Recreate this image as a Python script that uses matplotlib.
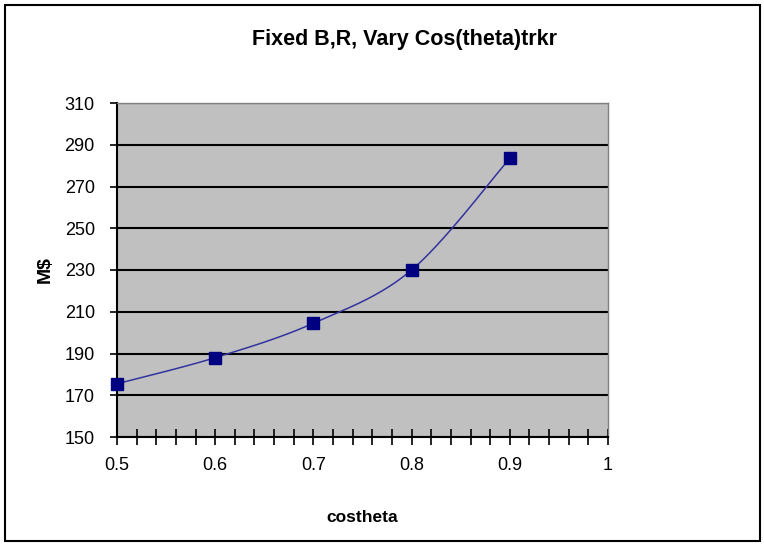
import numpy as np
import matplotlib
matplotlib.use("Agg")
import matplotlib.pyplot as plt
from matplotlib.patches import Rectangle

plt.rcParams['font.family'] = ['Liberation Sans', 'DejaVu Sans']

# cost vs. tracker cos(theta) coverage
costheta = [0.5, 0.6, 0.7, 0.8, 0.9]
cost = [175.5, 188.0, 204.5, 230.0, 283.5]
x_ticks = [0.5, 0.6, 0.7, 0.8, 0.9, 1.0]
x_tick_labels = ['0.5', '0.6', '0.7', '0.8', '0.9', '1']
y_ticks = [150, 170, 190, 210, 230, 250, 270, 290, 310]


def smooth_curve(x, y, n=40):
    # Catmull-Rom style smoothing, like a spreadsheet "smoothed line"
    x = np.asarray(x, float)
    y = np.asarray(y, float)
    px = np.concatenate([[x[0]], x, [x[-1]]])
    py = np.concatenate([[y[0]], y, [y[-1]]])
    xs, ys = [], []
    t = np.linspace(0, 1, n)
    for i in range(1, len(px) - 2):
        p0 = np.array([px[i], py[i]])
        p3 = np.array([px[i + 1], py[i + 1]])
        c1 = p0 + (np.array([px[i + 1], py[i + 1]]) - np.array([px[i - 1], py[i - 1]])) / 6
        c2 = p3 - (np.array([px[i + 2], py[i + 2]]) - np.array([px[i], py[i]])) / 6
        b = ((1 - t) ** 3)[:, None] * p0 + (3 * (1 - t) ** 2 * t)[:, None] * c1 \
            + (3 * (1 - t) * t ** 2)[:, None] * c2 + (t ** 3)[:, None] * p3
        xs.extend(b[:, 0])
        ys.extend(b[:, 1])
    return xs, ys


fig = plt.figure(figsize=(7.64, 5.46), dpi=100)
ax = fig.add_axes([117 / 764, 1 - 437 / 546, 491 / 764, 334 / 546])
ax.set_facecolor('#C0C0C0')

ax.set_xlim(0.5, 1.0)
ax.set_ylim(150, 310)
ax.set_yticks(y_ticks)
ax.set_xticks(x_ticks)
ax.set_xticklabels(x_tick_labels)
ax.set_xticks(np.round(np.arange(0.5, 1.001, 0.02), 2), minor=True)
ax.grid(axis='y', color='black', linewidth=1.5)
ax.set_axisbelow(True)

sx, sy = smooth_curve(costheta, cost)
ax.plot(sx, sy, color='#3333A0', linewidth=1.1, zorder=3)
ax.plot(costheta, cost, linestyle='none', marker='s', markersize=9,
        color='#000080', zorder=4, clip_on=False)

for side in ('top', 'right'):
    ax.spines[side].set_color('#808080')
    ax.spines[side].set_linewidth(1.0)
for side in ('left', 'bottom'):
    ax.spines[side].set_color('black')
    ax.spines[side].set_linewidth(1.5)

ax.tick_params(axis='y', direction='out', length=5, width=1.2, labelsize=13, pad=11)
ax.tick_params(axis='x', which='both', direction='inout', length=11, width=1.2)
ax.tick_params(axis='x', labelsize=13, pad=9)

fig.text(405 / 764, 1 - 40 / 546, 'Fixed B,R, Vary Cos(theta)trkr', ha='center',
         va='center', fontsize=15.5, fontweight='bold')
fig.text(45 / 764, 1 - 270 / 546, 'M$', rotation=90, ha='center', va='center',
         fontsize=14, fontweight='bold')
fig.text(362 / 764, 1 - 517 / 546, 'costheta', ha='center', va='center',
         fontsize=12.5, fontweight='bold')

fig.patches.append(Rectangle((5 / 764, 5 / 546), 755 / 764, 536 / 546,
                             transform=fig.transFigure, fill=False,
                             edgecolor='black', linewidth=1.5))

fig.savefig('out.png', dpi=100)
